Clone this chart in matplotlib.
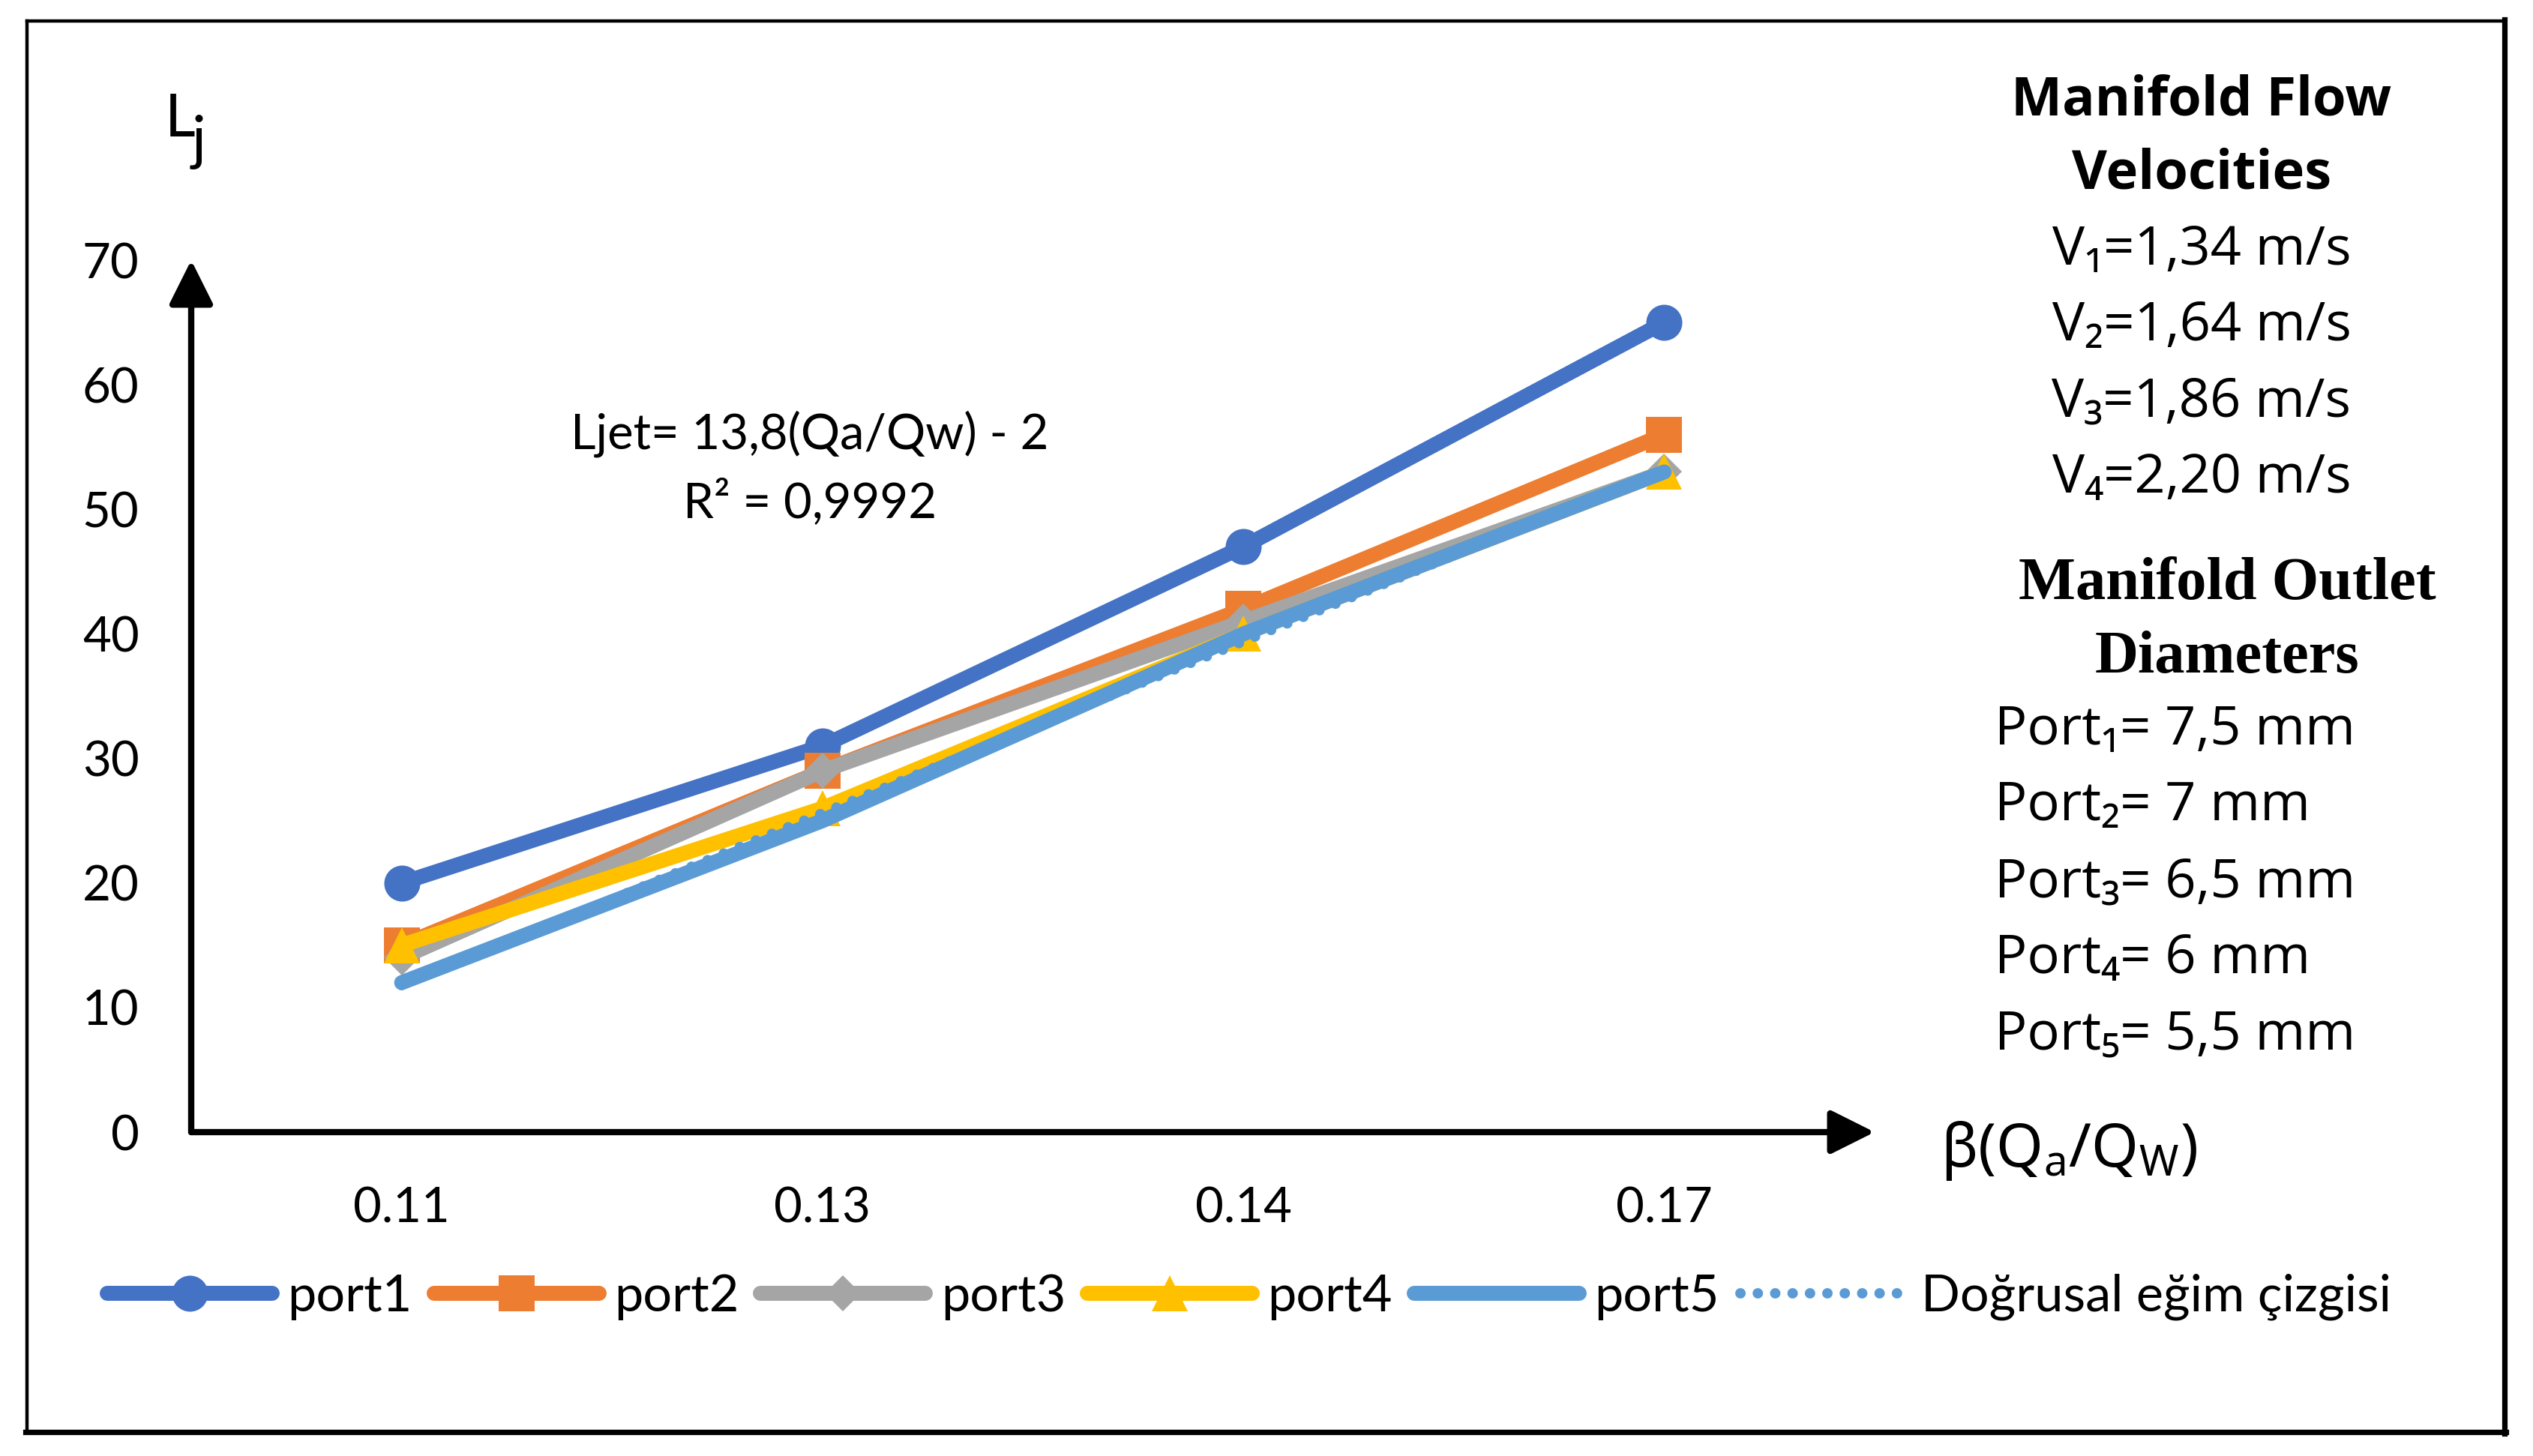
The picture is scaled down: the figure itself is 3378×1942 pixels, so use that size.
import numpy as np
import matplotlib
matplotlib.use("Agg")
import matplotlib.pyplot as plt
from matplotlib.patches import FancyArrowPatch
from matplotlib.lines import Line2D

W, H = 3378, 1942
DPI = 200

# data
beta = ["0.11", "0.13", "0.14", "0.17"]
port1 = [20, 31, 47, 65]
port2 = [15, 29, 42, 56]
port3 = [14, 29, 41, 53]
port4 = [15, 26, 40, 53]
port5 = [12, 25, 40, 53]
yticks = [0, 10, 20, 30, 40, 50, 60, 70]

velocities = ["V₁=1,34 m/s", "V₂=1,64 m/s", "V₃=1,86 m/s", "V₄=2,20 m/s"]
diameters = ["Port₁= 7,5 mm", "Port₂= 7 mm", "Port₃= 6,5 mm",
             "Port₄= 6 mm", "Port₅= 5,5 mm"]

plt.rcParams['font.family'] = ['Lato', 'DejaVu Sans']
plt.rcParams['mathtext.fontset'] = 'custom'
plt.rcParams['mathtext.rm'] = 'Noto Sans'
plt.rcParams['mathtext.it'] = 'Noto Sans'


def fx(x):
    return x / W


def fy(y):
    return 1 - y / H


fig = plt.figure(figsize=(W / DPI, H / DPI), dpi=DPI)
ax = fig.add_axes([fx(255), fy(1510), (2500 - 255) / W, (1510 - 347) / H])

x = np.arange(len(beta))
lw = 7.2
ms = 17.3
ax.plot(x, port1, color='#4472C4', lw=lw, marker='o', ms=ms, mew=0,
        solid_capstyle='round', label='port1')
ax.plot(x, port2, color='#ED7D31', lw=lw, marker='s', ms=ms, mew=0,
        solid_capstyle='round', label='port2')
ax.plot(x, port3, color='#A5A5A5', lw=lw, marker='D', ms=ms / 1.414, mew=0,
        solid_capstyle='round', label='port3')
ax.plot(x, port4, color='#FFC000', lw=lw, marker='^', ms=ms, mew=0,
        solid_capstyle='round', label='port4')
ax.plot(x, port5, color='#5B9BD5', lw=lw, solid_capstyle='round',
        label='port5')
k, b = np.polyfit(x + 1, port5, 1)
ax.plot(x, k * (x + 1) + b, color='#5B9BD5', lw=5,
        linestyle=(0, (0.01, 1.66)), dash_capstyle='round',
        label='Doğrusal eğim çizgisi')

ax.set_xlim(-0.5, 3.5)
ax.set_ylim(0, 70)
ax.set_xticks(x)
ax.set_xticklabels(beta)
ax.set_yticks(yticks)
ax.tick_params(length=0, labelsize=23.5, colors='black')
ax.tick_params(axis='y', pad=25)
ax.tick_params(axis='x', pad=26)
for s in ax.spines.values():
    s.set_visible(False)

for end in [(0, 1), (1, 0)]:
    arr = FancyArrowPatch((0, 0), end, transform=ax.transAxes,
                          arrowstyle='-|>,head_length=0.9,head_width=0.45',
                          mutation_scale=20, lw=3, color='black',
                          shrinkA=0, shrinkB=0, clip_on=False)
    ax.add_patch(arr)

fig.text(fx(1080), fy(579), "Ljet= 13,8(Qa/Qw) - 2", fontsize=23.5,
         ha='center', va='center')
fig.text(fx(1080), fy(670), "R² = 0,9992", fontsize=23.5,
         ha='center', va='center')

# axis titles
fig.text(fx(220), fy(182), "L", fontsize=28.5, ha='left', va='baseline')
fig.text(fx(256), fy(211), "j", fontsize=28.5, ha='left', va='baseline')
fig.text(fx(2588), fy(1556), r"β(Q$_a$/Q$_W$)", fontsize=29,
         family='Noto Sans', ha='left', va='baseline')

# right side notes
fig.text(fx(2936), fy(134), "Manifold Flow", fontsize=26, weight='bold',
         family=['Open Sans', 'DejaVu Sans'], ha='center', va='center')
fig.text(fx(2936), fy(233), "Velocities", fontsize=26, weight='bold',
         family=['Open Sans', 'DejaVu Sans'], ha='center', va='center')
for i, t in enumerate(velocities):
    fig.text(fx(2936), fy(334 + 101.5 * i), t, fontsize=26,
             family=['Open Sans', 'DejaVu Sans'], ha='center', va='center')
fig.text(fx(2970), fy(780), "Manifold Outlet", fontsize=29, weight='bold',
         family='Liberation Serif', ha='center', va='center')
fig.text(fx(2970), fy(877), "Diameters", fontsize=29, weight='bold',
         family='Liberation Serif', ha='center', va='center')
for i, t in enumerate(diameters):
    fig.text(fx(2660), fy(974 + 101.7 * i), t, fontsize=26,
             family=['Open Sans', 'DejaVu Sans'], ha='left', va='center')

handles, labels = ax.get_legend_handles_labels()
fig.legend(handles, labels, loc='center', bbox_to_anchor=(fx(1666), fy(1730)),
           ncol=6, frameon=False, handlelength=3.22, handletextpad=0.3,
           columnspacing=0.42, fontsize=24.6, numpoints=1)

# outer frame, thin top/left and heavier bottom/right
fig.add_artist(Line2D([fx(36), fx(3340)], [fy(28), fy(28)], lw=1.6, color='black'))
fig.add_artist(Line2D([fx(36), fx(36)], [fy(28), fy(1910)], lw=1.6, color='black'))
fig.add_artist(Line2D([fx(3340), fx(3340)], [fy(26), fy(1912)], lw=2.6, color='black'))
fig.add_artist(Line2D([fx(34), fx(3342)], [fy(1910), fy(1910)], lw=2.6, color='black'))

fig.savefig("out.png", dpi=DPI)
